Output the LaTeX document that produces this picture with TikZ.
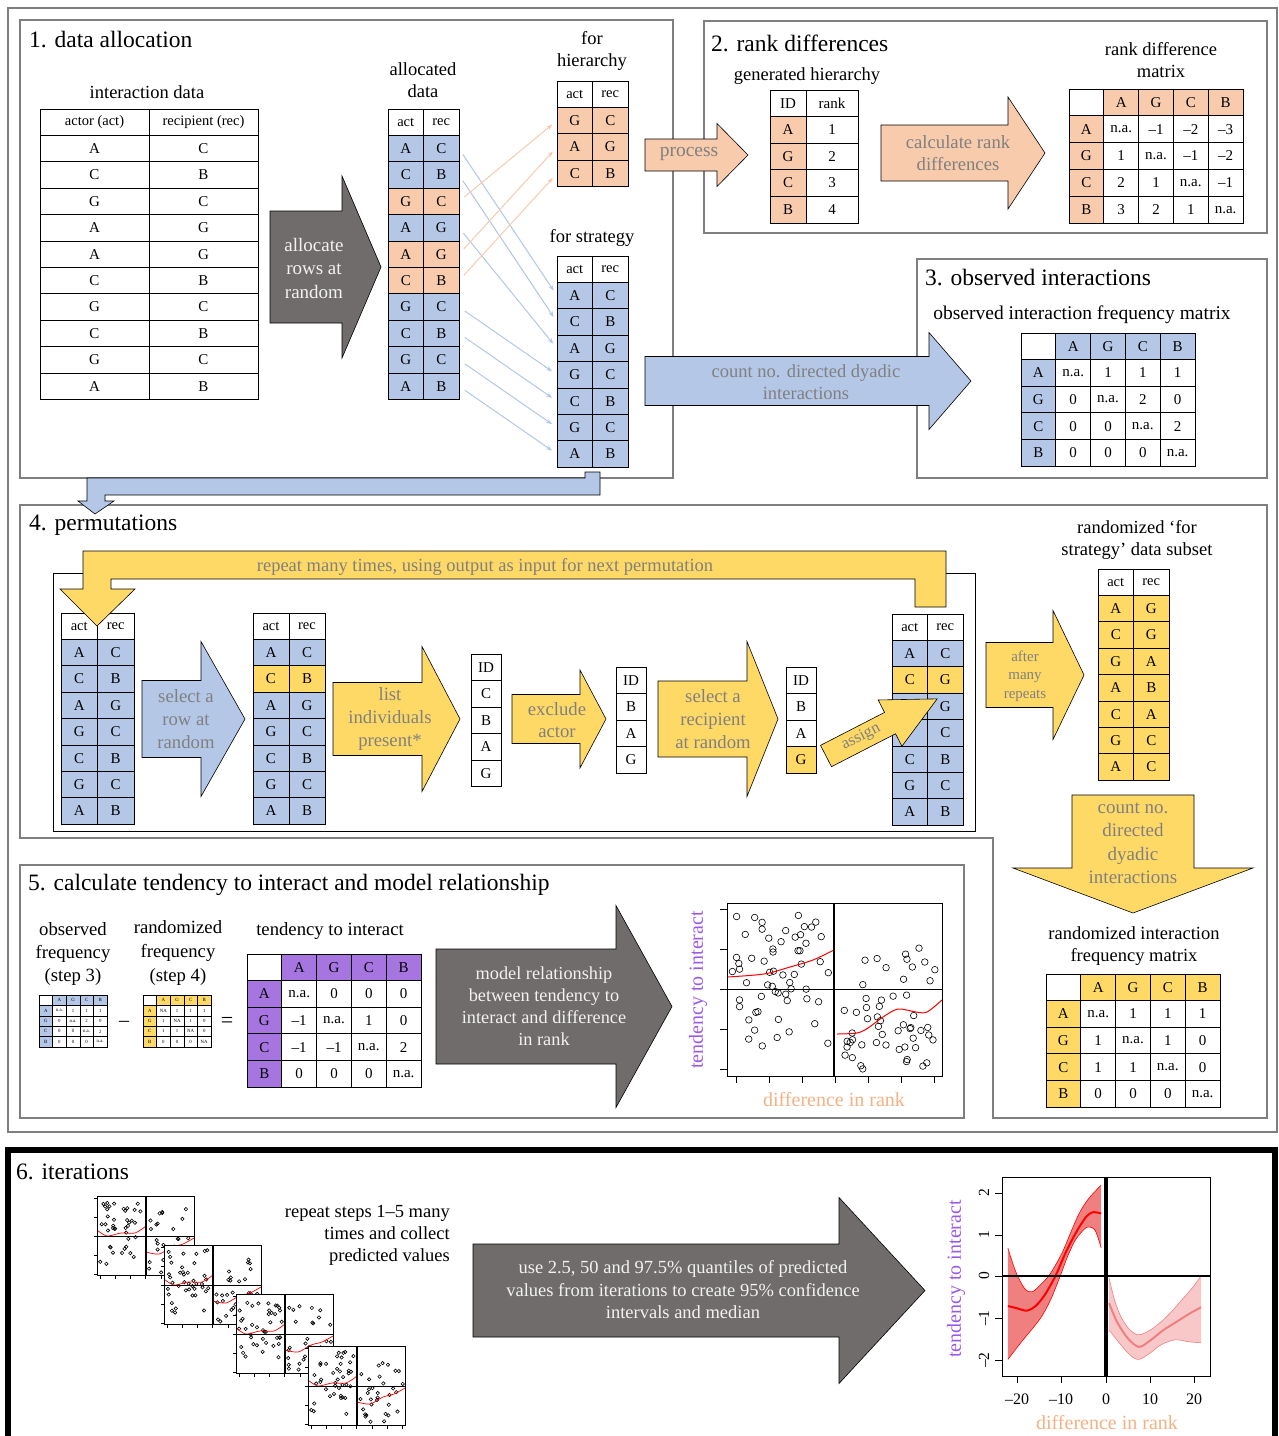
\documentclass[tikz,border=0pt]{standalone}
\usepackage{fontspec}
\setmainfont{Liberation Serif}
\usetikzlibrary{arrows.meta,positioning}

\definecolor{blu}{HTML}{B4C7E7}
\definecolor{org}{HTML}{F8CBAD}
\definecolor{yel}{HTML}{FFD966}
\definecolor{pur}{HTML}{A775E0}
\definecolor{purtxt}{HTML}{9B59E8}
\definecolor{darkarr}{HTML}{706C6B}
\definecolor{frame}{HTML}{7F7F7F}
\definecolor{graytxt}{HTML}{808080}
\definecolor{lighttxt}{HTML}{F2F2F2}
\definecolor{rnk}{HTML}{F4B183}
\definecolor{bandA}{HTML}{F08080}
\definecolor{bandB}{HTML}{F8C8C8}

% two-column act/rec table: prefix, x, y, col width, head 1, head 2, rows (a/b/fill)
\newcommand{\twocol}[7]{%
  \node[hcell, minimum width=#4] (#1-h1) at ({#2+#4/2},{#3+13.2}) {#5};
  \node[hcell, minimum width=#4] (#1-h2) at ({#2+#4*1.5},{#3+13.2}) {#6};
  \foreach \pa/\pb/\pf [count=\i] in {#7}{
    \node[cell, fill=\pf, minimum width=#4] (#1-a\i) at ({#2+#4/2},{#3+13.2+26.4*\i}) {\pa};
    \node[cell, fill=\pf, minimum width=#4] (#1-r\i) at ({#2+#4*1.5},{#3+13.2+26.4*\i}) {\pb};
  }}

% 5x5 matrix: prefix, x, y, col width, row height, fill, extra style, rows
\newcommand{\freqmat}[8]{%
  \node[cell, minimum width=#4, minimum height=#5, #7] (#1-00) at ({#2+#4/2},{#3+#5/2}) {};
  \foreach \hd [count=\j] in {A,G,C,B}
    \node[cell, fill=#6, minimum width=#4, minimum height=#5, #7] (#1-0\j) at ({#2+#4*(\j+0.5)},{#3+#5/2}) {\hd};
  \foreach \rl/\ma/\mb/\mc/\md [count=\i] in {#8}{
    \node[cell, fill=#6, minimum width=#4, minimum height=#5, #7] (#1-\i0) at ({#2+#4/2},{#3+#5*(\i+0.5)}) {\rl};
    \foreach \v [count=\j] in {\ma,\mb,\mc,\md}
      \node[cell, minimum width=#4, minimum height=#5, #7] (#1-\i\j) at ({#2+#4*(\j+0.5)},{#3+#5*(\i+0.5)}) {\v};
  }}

% block arrow pointing right: style, x start, x head, x tip, y centre, body half, head half
\newcommand{\blockright}[7]{%
  \draw[blk, #1] ({#2},{#5-#6}) -- ({#3},{#5-#6}) -- ({#3},{#5-#7}) -- ({#4},{#5})
    -- ({#3},{#5+#7}) -- ({#3},{#5+#6}) -- ({#2},{#5+#6}) -- cycle;}

% random circles: x0, x1, y0, y1, count, radius
\newcommand{\scatterpts}[6]{%
  \foreach \k in {1,...,#5}{
    \pgfmathsetmacro{\px}{(#1)+rnd*((#2)-(#1))}
    \pgfmathsetmacro{\py}{(#3)+rnd*((#4)-(#3))}
    \draw[line width=0.6pt] (\px,\py) circle[radius=#6];
  }}

% small scatter plot of section 6: x, y, seed
\newcommand{\miniplot}[3]{%
  \pgfmathsetseed{#3}
  \fill[white] (#1,#2) rectangle ++(97,79);
  \begin{scope}
    \clip (#1,#2) rectangle ++(97,79);
    \scatterpts{#1+3}{#1+46}{#2+5}{#2+45}{30}{1.7}
    \scatterpts{#1+3}{#1+46}{#2+45}{#2+70}{10}{1.7}
    \scatterpts{#1+52}{#1+95}{#2+12}{#2+38}{10}{1.7}
    \scatterpts{#1+52}{#1+95}{#2+42}{#2+77}{22}{1.7}
    \draw[red, line width=0.7pt] plot[smooth] coordinates {({#1},{#2+34}) ({#1+10},{#2+40}) ({#1+24},{#2+37}) ({#1+38},{#2+37}) ({#1+49},{#2+30})};
    \draw[red, line width=0.7pt] plot[smooth] coordinates {({#1+49},{#2+56}) ({#1+62},{#2+58}) ({#1+75},{#2+51}) ({#1+86},{#2+48}) ({#1+97},{#2+42})};
  \end{scope}
  \draw[line width=0.7pt] (#1,#2) rectangle ++(97,79);
  \draw[line width=1.2pt] ({#1+49},{#2}) -- ({#1+49},{#2+79});
  \draw[line width=0.7pt] ({#1},{#2+40}) -- ({#1+97},{#2+40});
  \foreach \t in {0,...,4} \draw[line width=0.6pt] ({#1-3},{#2+2+19*\t}) -- ++(3,0);
  \foreach \t in {0,...,6} \draw[line width=0.6pt] ({#1+3+15.2*\t},{#2+79}) -- ++(0,4);
}

\begin{document}
\begin{tikzpicture}[x=1pt, y=-1pt,
  frm/.style={draw=frame, line width=2.8pt},
  cell/.style={draw=black, fill=white, line width=0.8pt, inner sep=0pt, outer sep=0pt,
    minimum height=26.4, font=\fontsize{15}{17}\selectfont},
  hcell/.style={cell, font=\fontsize{14.5}{16}\selectfont},
  tinycell/.style={line width=0.35pt, font=\fontsize{4.8}{5}\selectfont},
  lbl/.style={align=center, inner sep=0pt, font=\fontsize{18.5}{22.5}\selectfont},
  ttl/.style={anchor=west, inner sep=0pt, font=\fontsize{23.5}{26}\selectfont},
  blk/.style={draw=black, line width=0.6pt},
  arrtxt/.style={align=center, inner sep=0pt, text=graytxt, font=\fontsize{18.7}{23}\selectfont},
  darktxt/.style={align=center, inner sep=0pt, text=lighttxt, font=\fontsize{18.3}{22}\selectfont},
  link/.style={-{Stealth[length=6pt,width=4.5pt]}, line width=1pt, shorten <=7pt, shorten >=6pt},
]
\useasboundingbox (0,0) rectangle (1279,1436);

% ---- frames
\draw[frm] (8,8) rectangle (1277,1132);
\draw[frm] (20,20) rectangle (673,478);
\draw[frm] (704,21) rectangle (1267,233);
\draw[frm] (917,259) rectangle (1267,478);
\draw[frm] (20,505) -- (1267,505) -- (1267,1118) -- (993,1118) -- (993,838) -- (20,838) -- cycle;
\draw[frm] (20,865) rectangle (964,1118);

% ---- 1. data allocation
\node[ttl] (t1) at (29,40) {1. data allocation};
\node[lbl] (intlbl) at (147,92) {interaction data};
\twocol{ia}{40}{109}{109}{actor (act)}{recipient (rec)}{A/C/white,C/B/white,G/C/white,A/G/white,A/G/white,C/B/white,G/C/white,C/B/white,G/C/white,A/B/white}
\blockright{fill=darkarr}{270}{342}{381}{267}{56}{91}
\node[darktxt, font=\fontsize{19}{23.5}\selectfont] (alloc) at (314,268) {allocate\\rows at\\random};
\node[lbl] (allbl) at (423,80) {allocated\\data};
\twocol{al}{388}{109}{35.5}{act}{rec}{A/C/blu,C/B/blu,G/C/org,A/G/blu,A/G/org,C/B/org,G/C/blu,C/B/blu,G/C/blu,A/B/blu}
\node[lbl] (hilbl) at (592,51) {for\\hierarchy};
\twocol{hi}{557}{81}{35.5}{act}{rec}{G/C/org,A/G/org,C/B/org}
\node[lbl] (stlbl) at (592,238) {for strategy};
\twocol{st}{557}{256}{35.5}{act}{rec}{A/C/blu,C/B/blu,A/G/blu,G/C/blu,C/B/blu,G/C/blu,A/B/blu}
\foreach \s/\t in {1/1,2/2,4/3,7/4,8/5,9/6,10/7}
  \draw[link, blu] (al-r\s.east) -- (st-a\t.west);
\foreach \s/\t in {3/1,5/2,6/3}
  \draw[link, org] (al-r\s.east) -- (hi-a\t.west);

% connector to permutations
\draw[blk, fill=blu] (585,472) -- (600,472) -- (600,495) -- (105,495) -- (105,501) -- (114,501)
  -- (95,514) -- (78,501) -- (87,501) -- (87,478) -- (585,478) -- cycle;

% ---- 2. rank differences
\node[ttl] (t2) at (711,43) {2. rank differences};
\blockright{fill=org}{645}{717}{748}{155}{16}{31.5}
\node[arrtxt, font=\fontsize{19.5}{23}\selectfont] (process) at (689,154) {process};
\node[lbl] (genlbl) at (807,76) {generated hierarchy};
\foreach \d/\r/\f [count=\i] in {ID/rank/white,A/1/org,G/2/org,C/3/org,B/4/org}{
  \node[cell, fill=\f, minimum width=36, minimum height=26.6] (gh-d\i) at (788,{90+26.6*(\i-0.5)}) {\d};
  \node[cell, minimum width=52, minimum height=26.6] (gh-r\i) at (832,{90+26.6*(\i-0.5)}) {\r};
}
\blockright{fill=org}{881}{1008}{1045}{153}{28}{56}
\node[arrtxt, font=\fontsize{18.7}{22}\selectfont] (calcrank) at (958,153) {calculate rank\\differences};
\node[lbl] (rdlbl) at (1161,60) {rank difference\\matrix};
\freqmat{rd}{1069}{89}{34.8}{26.8}{org}{}{A/n.a./–1/–2/–3,G/1/n.a./–1/–2,C/2/1/n.a./–1,B/3/2/1/n.a.}

% ---- 3. observed interactions
\node[ttl] (t3) at (925,278) {3. observed interactions};
\blockright{fill=blu}{645}{929}{971}{381}{24.5}{48.5}
\node[arrtxt, font=\fontsize{18.5}{22}\selectfont] (countobs) at (806,382) {count no. directed dyadic\\interactions};
\node[lbl, font=\fontsize{19.5}{22}\selectfont] (oblbl) at (1082,315) {observed interaction frequency matrix};
\freqmat{ob}{1021}{333}{34.8}{26.6}{blu}{}{A/n.a./1/1/1,G/0/n.a./2/0,C/0/0/n.a./2,B/0/0/0/n.a.}

% ---- 4. permutations
\node[ttl] (t4) at (29,525) {4. permutations};
\draw[line width=0.8pt] (53,573) rectangle (975,831);
\twocol{pa}{61}{613}{36.5}{act}{rec}{A/C/blu,C/B/blu,A/G/blu,G/C/blu,C/B/blu,G/C/blu,A/B/blu}
\draw[blk, fill=yel] (946,551) -- (946,607) -- (915,607) -- (915,579) -- (111,579) -- (111,589)
  -- (135,589) -- (97,626) -- (60,589) -- (83,589) -- (83,551) -- cycle;
\node[arrtxt, font=\fontsize{18.5}{20}\selectfont] (repeat) at (485,567) {repeat many times, using output as input for next permutation};
\blockright{fill=blu}{142}{201}{245}{719}{38.5}{77.5}
\node[arrtxt] (selrow) at (186,719) {select a\\row at\\random};
\twocol{pb}{253}{613}{36}{act}{rec}{A/C/blu,C/B/yel,A/G/blu,G/C/blu,C/B/blu,G/C/blu,A/B/blu}
\blockright{fill=yel}{333}{422}{460}{719}{36.5}{72.5}
\node[arrtxt] (listind) at (390,719) {list\\individuals\\present*};
\foreach \v [count=\i] in {ID,C,B,A,G}
  \node[cell, minimum width=30, minimum height=26.5] (ida\i) at (486,{654+26.5*(\i-0.5)}) {\v};
\blockright{fill=yel}{512}{580}{606}{719}{24.5}{49}
\node[arrtxt, font=\fontsize{18.7}{22}\selectfont] (excl) at (557,720) {exclude\\actor};
\foreach \v [count=\i] in {ID,B,A,G}
  \node[cell, minimum width=30, minimum height=26.5] (idb\i) at (631,{667+26.5*(\i-0.5)}) {\v};
\blockright{fill=yel}{658}{747}{778}{719}{38}{77.5}
\node[arrtxt] (selrec) at (713,719) {select a\\recipient\\at random};
\foreach \v/\f [count=\i] in {ID/white,B/white,A/white,G/yel}
  \node[cell, fill=\f, minimum width=30, minimum height=26.5] (idc\i) at (801,{667+26.5*(\i-0.5)}) {\v};
\twocol{pc}{892}{614}{35.5}{act}{rec}{A/C/blu,C/G/yel,/G/blu,/C/blu,C/B/blu,G/C/blu,A/B/blu}
\begin{scope}[shift={(826,756)}, rotate=27.2]
  \draw[blk, fill=yel] (0,-12) -- (72,-12) -- (72,-26) -- (125,0) -- (72,26) -- (72,12) -- (0,12) -- cycle;
  \node[arrtxt, rotate=27.2, font=\fontsize{16.5}{18}\selectfont] (assign) at (40,-1) {assign};
\end{scope}
\blockright{fill=yel}{986}{1053}{1084}{675}{32.5}{64.5}
\node[arrtxt, font=\fontsize{15}{18.5}\selectfont] (after) at (1025,676) {after\\many\\repeats};
\node[lbl] (rslbl) at (1137,540) {randomized ‘for\\strategy’ data subset};
\twocol{pd}{1098}{569}{35.5}{act}{rec}{A/G/yel,C/G/yel,G/A/yel,A/B/yel,C/A/yel,G/C/yel,A/C/yel}
\draw[blk, fill=yel] (1072,795) -- (1194,795) -- (1194,868) -- (1253,868) -- (1133,913) -- (1013,868) -- (1072,868) -- cycle;
\node[arrtxt, font=\fontsize{19}{23.5}\selectfont] (countrand) at (1133,843) {count no.\\directed\\dyadic\\interactions};
\node[lbl] (rflbl) at (1134,946) {randomized interaction\\frequency matrix};
\freqmat{rf}{1046}{974}{34.8}{26.6}{yel}{}{A/n.a./1/1/1,G/1/n.a./1/0,C/1/1/n.a./0,B/0/0/0/n.a.}

% ---- 5. tendency to interact
\node[ttl] (t5) at (28,885) {5. calculate tendency to interact and model relationship};
\node[lbl, font=\fontsize{18.7}{23}\selectfont] (obsf) at (73,954) {observed\\frequency\\(step 3)};
\node[lbl, font=\fontsize{18.7}{24}\selectfont] (ranf) at (178,953) {randomized\\frequency\\(step 4)};
\node[lbl, font=\fontsize{18.7}{22}\selectfont] (tilbl) at (330,931) {tendency to interact};
\freqmat{so}{39}{995}{13.6}{10.4}{blu}{tinycell}{A/n.a./1/1/1,G/0/n.a./2/0,C/0/0/n.a./2,B/0/0/0/n.a.}
\node[inner sep=0pt, font=\fontsize{20}{22}\selectfont] (minus) at (124,1024) {–};
\freqmat{sr}{143}{995}{13.6}{10.4}{yel}{tinycell}{A/NA/1/1/1,G/1/NA/1/0,C/1/1/NA/0,B/0/0/0/NA}
\node[inner sep=0pt, font=\fontsize{22}{24}\selectfont] (equals) at (227,1022) {=};
\freqmat{ti}{247}{954}{34.8}{26.6}{pur}{}{A/n.a./0/0/0,G/–1/n.a./1/0,C/–1/–1/n.a./2,B/0/0/0/n.a.}
\blockright{fill=darkarr}{436}{616}{672}{1006.5}{57.5}{101}
\node[darktxt] (model) at (544,1006) {model relationship\\between tendency to\\interact and difference\\in rank};
% scatter plot
\begin{scope}
  \clip (727,903) rectangle (942,1076);
  \pgfmathsetseed{5}
  \scatterpts{731}{829}{912}{1000}{45}{3.3}
  \scatterpts{731}{829}{1000}{1050}{14}{3.3}
  \scatterpts{840}{938}{945}{985}{12}{3.3}
  \scatterpts{840}{938}{995}{1070}{42}{3.3}
  \draw[red, line width=1pt] plot[smooth] coordinates {(727,977) (764,974) (790,967) (813,960) (834,950)};
  \draw[red, line width=1pt] plot[smooth] coordinates {(837,1034) (857,1033) (868,1028) (883,1017) (898,1009) (916,1012) (927,1012) (942,1000)};
\end{scope}
\draw[line width=0.8pt] (727,903) rectangle (942,1076);
\draw[line width=2.5pt] (834,903) -- (834,1076);
\draw[line width=1pt] (727,989) -- (942,989);
\foreach \t in {909,949,989,1029,1069} \draw[line width=0.8pt] (720,\t) -- (727,\t);
\foreach \t in {736,769,802,835,868,901,934} \draw[line width=0.8pt] (\t,1076) -- (\t,1083);
\node[inner sep=0pt, rotate=90, text=purtxt, font=\fontsize{20}{22}\selectfont] (ylab5) at (698,990) {tendency to interact};
\node[inner sep=0pt, text=rnk, font=\fontsize{20}{22}\selectfont] (xlab5) at (834,1100) {difference in rank};

% ---- 6. iterations
\draw[line width=6pt] (8,1445) -- (8,1150) -- (1275,1150) -- (1275,1445);
\node[ttl] (t6) at (16,1172) {6. iterations};
\miniplot{97}{1196}{11}
\miniplot{164}{1245}{12}
\miniplot{236}{1294}{13}
\miniplot{308}{1346}{14}
\node[lbl, align=right, anchor=east, font=\fontsize{18.5}{22}\selectfont] (collect) at (450,1235) {repeat steps 1–5 many\\times and collect\\predicted values};
\blockright{fill=darkarr}{473}{839}{925}{1290.5}{46.5}{93}
\node[darktxt, font=\fontsize{18.5}{22.5}\selectfont] (quant) at (683,1290) {use 2.5, 50 and 97.5\% quantiles of predicted\\values from iterations to create 95\% confidence\\intervals and median};
\begin{scope}[shift={(1106,1276)}, x=4.4pt, y=41.7pt]
  \fill[bandA] plot[smooth] coordinates {(-22.3,0.67) (-20.5,0.1) (-18.5,-0.3) (-16.8,-0.38) (-14.8,-0.2) (-12.7,0.05) (-10,0.55) (-8,1.05) (-6.1,1.5) (-4,1.85) (-1.1,2.18)}
    -- plot[smooth] coordinates {(-1.1,0.67) (-2.5,1.1) (-4.3,1.17) (-6,1.0) (-7.3,0.8) (-9,0.4) (-10.4,0.0) (-12.5,-0.55) (-14.5,-0.95) (-16.4,-1.22) (-19,-1.55) (-22.3,-2.0)} -- cycle;
  \draw[red, line width=0.6pt] plot[smooth] coordinates {(-22.3,0.67) (-20.5,0.1) (-18.5,-0.3) (-16.8,-0.38) (-14.8,-0.2) (-12.7,0.05) (-10,0.55) (-8,1.05) (-6.1,1.5) (-4,1.85) (-1.1,2.18)};
  \draw[red, line width=0.6pt] plot[smooth] coordinates {(-1.1,0.67) (-2.5,1.1) (-4.3,1.17) (-6,1.0) (-7.3,0.8) (-9,0.4) (-10.4,0.0) (-12.5,-0.55) (-14.5,-0.95) (-16.4,-1.22) (-19,-1.55) (-22.3,-2.0)};
  \draw[red, line width=2pt] plot[smooth] coordinates {(-22.3,-0.72) (-20,-0.78) (-18,-0.83) (-16,-0.72) (-13.9,-0.45) (-11.5,0) (-9,0.6) (-6.5,1.1) (-4.5,1.42) (-3,1.53) (-1.1,1.5)};
  \fill[bandB] plot[smooth] coordinates {(0.7,-0.05) (2,-0.6) (3.5,-1.0) (5.5,-1.3) (7.5,-1.41) (10,-1.3) (12.5,-1.1) (14.5,-0.9) (17,-0.6) (19.5,-0.3) (21.6,0.0)}
    -- plot[smooth] coordinates {(21.6,-1.6) (19,-1.58) (15.7,-1.53) (12.5,-1.65) (10,-1.85) (7.5,-2.0) (5.5,-1.9) (3,-1.6) (0.7,-1.3)} -- cycle;
  \draw[bandA, line width=0.6pt] plot[smooth] coordinates {(0.7,-0.05) (2,-0.6) (3.5,-1.0) (5.5,-1.3) (7.5,-1.41) (10,-1.3) (12.5,-1.1) (14.5,-0.9) (17,-0.6) (19.5,-0.3) (21.6,0.0)};
  \draw[bandA, line width=0.6pt] plot[smooth] coordinates {(21.6,-1.6) (19,-1.58) (15.7,-1.53) (12.5,-1.65) (10,-1.85) (7.5,-2.0) (5.5,-1.9) (3,-1.6) (0.7,-1.3)};
  \draw[bandA, line width=2pt] plot[smooth] coordinates {(0.7,-0.65) (2.5,-1.1) (5,-1.5) (7.5,-1.7) (10,-1.55) (13,-1.3) (16,-1.1) (19,-0.9) (21.6,-0.75)};
\end{scope}
\draw[line width=0.8pt] (1002,1177) rectangle (1210,1376);
\draw[line width=3.5pt] (1106,1177) -- (1106,1376);
\draw[line width=2pt] (1002,1276) -- (1210,1276);
\foreach \v/\t in {2/1193,1/1235,0/1276,–1/1318,–2/1360}{
  \draw[line width=0.8pt] (995,\t) -- (1002,\t);
  \node[inner sep=0pt, rotate=90, font=\fontsize{15.5}{17}\selectfont] (yt\t) at (984,\t) {\v};
}
\foreach \v/\t in {–20/1017,–10/1061,0/1106,10/1150,20/1194}{
  \draw[line width=0.8pt] (\t,1376) -- (\t,1383);
  \node[inner sep=0pt, font=\fontsize{16}{17}\selectfont] (xt\t) at (\t,1399) {\v};
}
\node[inner sep=0pt, rotate=90, text=purtxt, font=\fontsize{20}{22}\selectfont] (ylab6) at (956,1279) {tendency to interact};
\node[inner sep=0pt, text=rnk, font=\fontsize{20}{22}\selectfont] (xlab6) at (1107,1423) {difference in rank};
\end{tikzpicture}
\end{document}
